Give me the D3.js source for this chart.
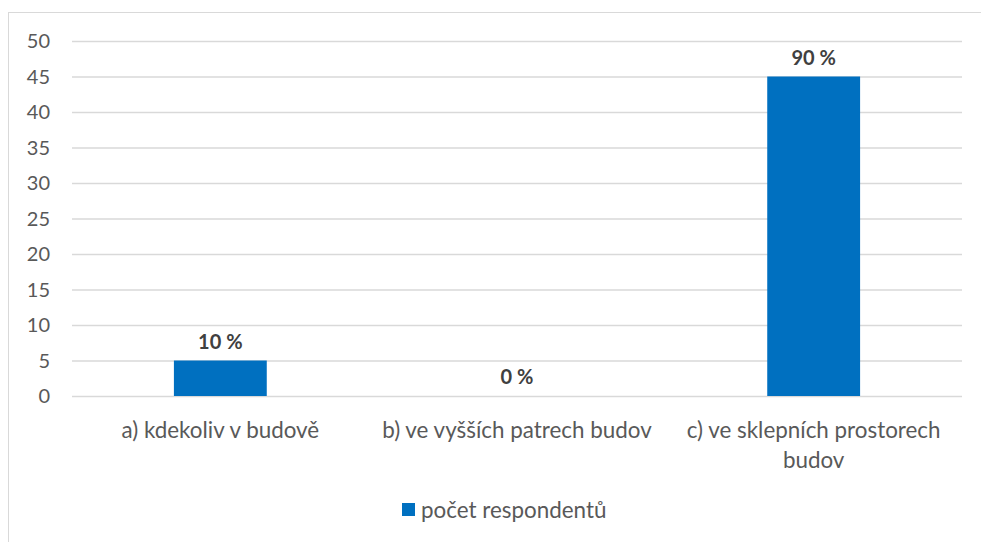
<!DOCTYPE html>
<html><head><meta charset="utf-8">
<script src="https://cdn.jsdelivr.net/npm/d3@7"></script>
<style>body{margin:0;background:#fff}svg{display:block}</style>
</head><body>
<script>
const categories = ["a) kdekoliv v budově", "b) ve vyšších patrech budov", "c) ve sklepních prostorech budov"];
const values = [5, 0, 45];
const dataLabels = ["10 %", "0 %", "90 %"];
const yTicks = [0, 5, 10, 15, 20, 25, 30, 35, 40, 45, 50];
const seriesName = "počet respondentů";

const W = 981, H = 542;
const font = "Lato, 'Open Sans', sans-serif";
const fs = "20px";
const fsCat = "22.4px";
const svg = d3.select("body").append("svg").attr("width", W).attr("height", H);

svg.append("rect").attr("x", 8.5).attr("y", 12.5).attr("width", 975).attr("height", 540)
  .attr("fill", "none").attr("stroke", "#d9d9d9");

const x = d3.scaleBand().domain(categories).range([72, 962]).paddingInner(0.687).paddingOuter(0.3435);
const y = d3.scaleLinear().domain([0, 50]).range([396, 41]);

const g = svg.append("g");
g.selectAll("line.grid").data(yTicks).join("line")
  .attr("x1", 72).attr("x2", 962)
  .attr("y1", d => y(d) + 0.5).attr("y2", d => y(d) + 0.5)
  .attr("stroke", "#d9d9d9").attr("stroke-width", 1.3);

g.selectAll("text.ytick").data(yTicks).join("text")
  .attr("x", 50).attr("y", d => y(d)).attr("dy", "0.36em")
  .attr("text-anchor", "end").attr("fill", "#595959")
  .style("font-family", font).style("font-size", fs).text(d => d);

g.selectAll("rect.bar").data(values).join("rect")
  .attr("x", (d, i) => x(categories[i])).attr("width", x.bandwidth())
  .attr("y", d => y(d)).attr("height", d => y(0) - y(d))
  .attr("fill", "#0070c0");

g.selectAll("text.dl").data(values).join("text")
  .attr("x", (d, i) => x(categories[i]) + x.bandwidth() / 2)
  .attr("y", d => y(d) - 19).attr("dy", "0.36em")
  .attr("text-anchor", "middle").attr("fill", "#404040")
  .style("font-family", font).style("font-size", fs).style("font-weight", "bold")
  .text((d, i) => dataLabels[i]);

// category labels with wrapping
const maxW = 285;
categories.forEach((c, i) => {
  const t = g.append("text").attr("text-anchor", "middle").attr("fill", "#595959")
    .style("font-family", font).style("font-size", fsCat);
  const cx = x(c) + x.bandwidth() / 2;
  const words = c.split(" ");
  let lines = [], cur = [];
  const tmp = t.append("tspan");
  words.forEach(w => {
    cur.push(w);
    tmp.text(cur.join(" "));
    if (tmp.node().getComputedTextLength() > maxW && cur.length > 1) {
      cur.pop(); lines.push(cur.join(" ")); cur = [w];
    }
  });
  lines.push(cur.join(" "));
  tmp.remove();
  lines.forEach((l, k) => {
    t.append("tspan").attr("x", cx).attr("y", 430 + k * 30).attr("dy", "0.36em").text(l);
  });
});

// legend
const lg = svg.append("g");
lg.append("rect").attr("x", 402).attr("y", 503).attr("width", 13).attr("height", 13).attr("fill", "#0070c0");
lg.append("text").attr("x", 421).attr("y", 510).attr("dy", "0.36em").attr("fill", "#595959")
  .style("font-family", font).style("font-size", fsCat).text(seriesName);
</script>
</body></html>
